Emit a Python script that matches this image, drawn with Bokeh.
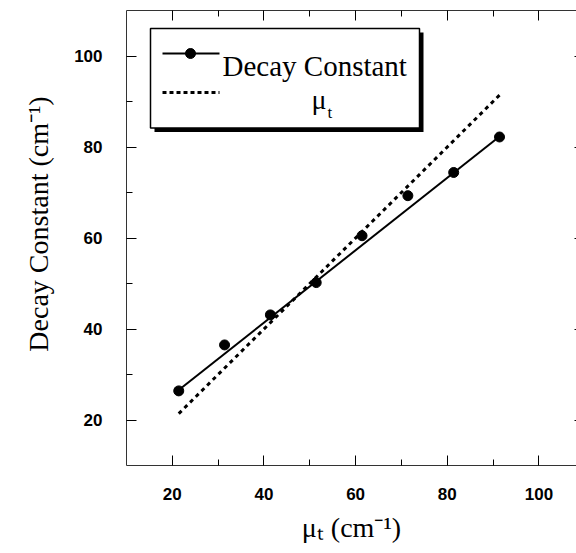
import numpy as np
from bokeh.plotting import figure
from bokeh.models import FixedTicker, LinearAxis, Label, BoxAnnotation, Range1d
from bokeh.embed import file_html
from bokeh.resources import INLINE

# ---- data ----
mu_t = [21.4, 31.4, 41.4, 51.4, 61.4, 71.4, 81.4, 91.4]
decay_constant = [26.4, 36.5, 43.1, 50.2, 60.5, 69.3, 74.4, 82.2]
fit_x = [21.4, 91.4]
fit_y = [26.6, 82.3]
ident_x = [21.4, 91.4]
ident_y = [21.4, 91.4]
major_ticks = [20, 40, 60, 80, 100]
minor_ticks = [30, 50, 70, 90]
x_title = "μₜ (cm⁻¹)"
y_title = "\u2003Decay Constant (cm⁻¹)"

# ---- layout ----
W, H = 576, 553
FL, FT, FR, FB = 126, 10, 576, 465
X0, X1 = 10, 108.2
Y0, Y1 = 10, 110
SERIF = "Liberation Serif"
SANS = "Liberation Sans"


def dx(px):
    return X0 + (px - FL) * (X1 - X0) / (FR - FL)


def dy(py):
    return Y1 - (py - FT) * (Y1 - Y0) / (FB - FT)


p = figure(width=W, height=H, x_range=Range1d(X0, X1), y_range=Range1d(Y0, Y1),
           output_backend="svg", toolbar_location=None,
           min_border_left=FL, min_border_top=FT,
           min_border_right=W - FR, min_border_bottom=H - FB)
p.outline_line_color = None
p.grid.visible = False
p.background_fill_color = "white"
p.border_fill_color = "white"


def style_axis(ax, show_labels=True, standoff=20):
    ax.ticker = FixedTicker(ticks=major_ticks, minor_ticks=minor_ticks)
    ax.axis_line_color = "#333333"
    ax.axis_line_width = 1
    ax.major_tick_in = 10
    ax.major_tick_out = 0
    ax.minor_tick_in = 6
    ax.minor_tick_out = 0
    ax.major_tick_line_color = "black"
    ax.minor_tick_line_color = "black"
    ax.major_label_text_font = SANS
    ax.major_label_text_font_style = "bold"
    if show_labels:
        ax.major_label_text_color = "black"
        ax.major_label_text_font_size = "17px"
        ax.major_label_standoff = standoff
    else:
        ax.major_label_text_color = None
        ax.major_label_text_font_size = "1px"
        ax.major_label_standoff = 0


style_axis(p.xaxis[0], True, 22)
style_axis(p.yaxis[0], True, 24)

for ax, title, so in ((p.xaxis[0], x_title, 9), (p.yaxis[0], y_title, 17)):
    ax.axis_label = title
    ax.axis_label_text_font = SERIF
    ax.axis_label_text_font_style = "normal"
    ax.axis_label_text_font_size = "28px"
    ax.axis_label_text_color = "black"
    ax.axis_label_standoff = so

top = LinearAxis()
style_axis(top, False)
p.add_layout(top, "above")

right = LinearAxis()
style_axis(right, False)
right.axis_line_color = None
right.major_tick_in = 2
right.minor_tick_in = 0
right.minor_tick_line_color = None
p.add_layout(right, "right")

# ---- data marks ----
p.line(fit_x, fit_y, line_color="black", line_width=2)
p.scatter(mu_t, decay_constant, size=10, fill_color="black", line_color="black")
p.line(ident_x, ident_y, line_color="black", line_width=3, line_dash="4 4")

# ---- legend (drawn by hand) ----
p.add_layout(BoxAnnotation(left=dx(154), right=dx(423), top=dy(32), bottom=dy(131.5),
                           fill_color="black", fill_alpha=1, line_color=None,
                           level="underlay"))
p.add_layout(BoxAnnotation(left=dx(150), right=dx(419), top=dy(28), bottom=dy(127.5),
                           fill_color="white", fill_alpha=1, line_color="black",
                           line_alpha=1, line_width=1.5, level="underlay"))
p.line([dx(162), dx(219)], [dy(53), dy(53)], line_color="black", line_width=2)
p.scatter([dx(190)], [dy(53)], size=10, fill_color="black", line_color="black")
p.line([dx(162), dx(219)], [dy(92), dy(92)], line_color="black", line_width=3,
       line_dash="4 3")


def lab(px, py, text, size):
    p.add_layout(Label(x=dx(px), y=dy(py), text=text, text_font=SERIF,
                       text_font_size=f"{size}px", text_color="black",
                       text_align="left", text_baseline="alphabetic"))


lab(222, 65, "Decay Constant", 29)
lab(311, 99, "μ", 28)
lab(327, 112, "t", 17)

open("out.html", "w").write(file_html(p, INLINE))
